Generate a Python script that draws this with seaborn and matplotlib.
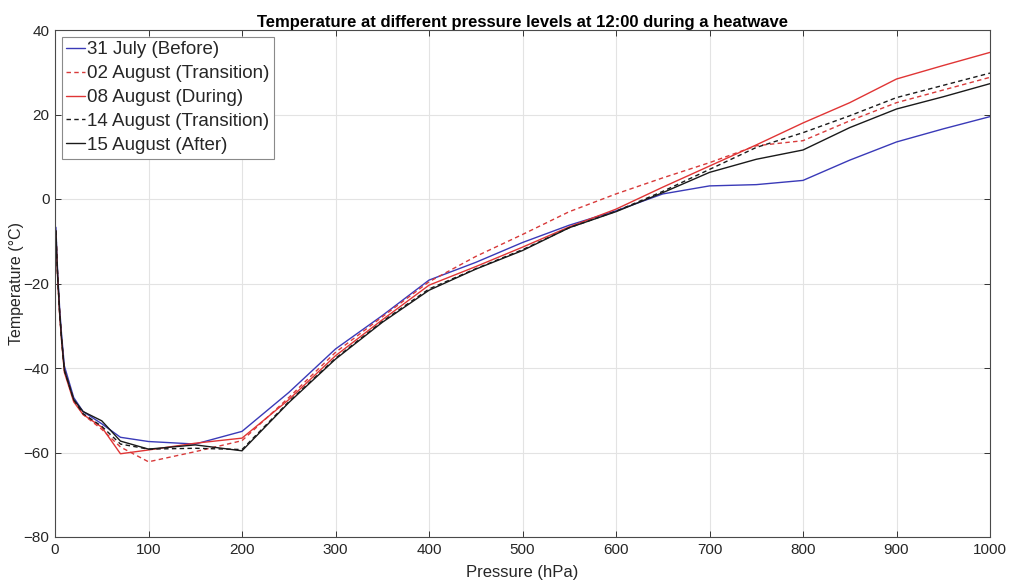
import matplotlib
matplotlib.use("Agg")
import matplotlib.pyplot as plt
import seaborn as sns
import pandas as pd

# Pressure levels (hPa)
pressure = [1, 2, 3, 5, 7, 10, 20, 30, 50, 70, 100, 150, 200, 250, 300, 350,
            400, 450, 500, 550, 600, 650, 700, 750, 800, 850, 900, 950, 1000]

# Temperature profiles (°C) at 12:00
t_31jul = [-6.7, -13, -18, -26, -32, -39.5, -47, -50.3, -53.2, -56.4, -57.4, -58.0,
           -55.0, -45.8, -35.5, -27.6, -19.2, -15.0, -10.3, -6.2, -2.8, 1.2, 3.1,
           3.4, 4.4, 9.2, 13.5, 16.6, 19.5]
t_02aug = [-7.5, -14, -19, -27, -33, -40.5, -47.5, -51, -54.5, -58.7, -62.2, -59.8,
           -57.2, -47.0, -36.3, -27.9, -19.6, -13.6, -8.4, -3.0, 1.2, 5.0, 8.6,
           12.6, 13.8, 18.5, 22.8, 25.8, 28.8]
t_08aug = [-8.5, -14.5, -19.5, -27.5, -33.5, -41, -48, -51, -54, -60.3, -59.4, -57.8,
           -56.6, -47.5, -37.1, -28.6, -20.4, -16.0, -11.4, -6.6, -2.4, 2.8, 7.8,
           12.8, 18.0, 22.8, 28.4, 31.6, 34.7]
t_14aug = [-7.5, -14, -19, -27, -33, -40.5, -47.5, -50.8, -53.8, -58.0, -59.2, -59.0,
           -59.3, -48.0, -37.7, -29.0, -21.3, -16.5, -12.0, -6.8, -2.9, 1.8, 7.0,
           12.2, 15.7, 19.7, 24.0, 26.9, 29.8]
t_15aug = [-7.5, -14, -19, -27, -33, -40.5, -47.5, -50.3, -52.5, -57.3, -59.2, -58.2,
           -59.6, -48.2, -37.9, -29.2, -21.6, -16.6, -12.2, -6.8, -3.0, 1.5, 6.3,
           9.4, 11.6, 16.9, 21.3, 24.2, 27.3]

labels = ["31 July (Before)", "02 August (Transition)", "08 August (During)",
          "14 August (Transition)", "15 August (After)"]
series = [t_31jul, t_02aug, t_08aug, t_14aug, t_15aug]
colors = ["#3a3ab8", "#d83a3a", "#e03535", "#1a1a1a", "#1a1a1a"]
dashed = [False, True, False, True, False]

sns.set_theme(style="white")
plt.rcParams["font.family"] = ["Liberation Sans", "DejaVu Sans"]

fig = plt.figure(figsize=(10.09, 5.82), dpi=100)
ax = fig.add_axes([55 / 1009, 1 - 537 / 582, 935 / 1009, 507 / 582])

for lab, vals, col, dsh in zip(labels, series, colors, dashed):
    df = pd.DataFrame({"Pressure": pressure, "Temperature": vals})
    sns.lineplot(data=df, x="Pressure", y="Temperature", ax=ax, color=col,
                 linewidth=1.0, label=lab, estimator=None, sort=False,
                 dashes=False)
    if dsh:
        ax.lines[-1].set_dashes([3.2, 2.4])

ax.set_xlim(0, 1000)
ax.set_ylim(-80, 40)
ax.set_xticks(range(0, 1001, 100))
ax.set_yticks(range(-80, 41, 20))

ax.grid(True, color="#e3e3e3", linewidth=0.8)
ax.set_axisbelow(True)
for sp in ax.spines.values():
    sp.set_visible(True)
    sp.set_color("#4a4a4a")
    sp.set_linewidth(0.8)
ax.tick_params(axis="both", which="major", direction="in", length=4,
               width=0.7, color="#333333", labelsize=11, labelcolor="#262626",
               top=True, right=True, bottom=True, left=True, pad=4)

ax.set_title("Temperature at different pressure levels at 12:00 during a heatwave",
             fontsize=12, fontweight="bold", pad=2.5, color="black")
ax.set_xlabel("Pressure (hPa)", fontsize=12, color="#262626", labelpad=6)
ax.set_ylabel("Temperature (°C)", fontsize=11.5, color="#262626", labelpad=0)

leg = ax.legend(loc="upper left", fontsize=13.5, frameon=True, fancybox=False,
                edgecolor="#8a8a8a", framealpha=1, handlelength=1.0,
                handletextpad=0.1, labelspacing=0.36, borderpad=0.25,
                borderaxespad=0.35)
leg.get_frame().set_linewidth(0.8)

fig.savefig("out.png", dpi=100)
